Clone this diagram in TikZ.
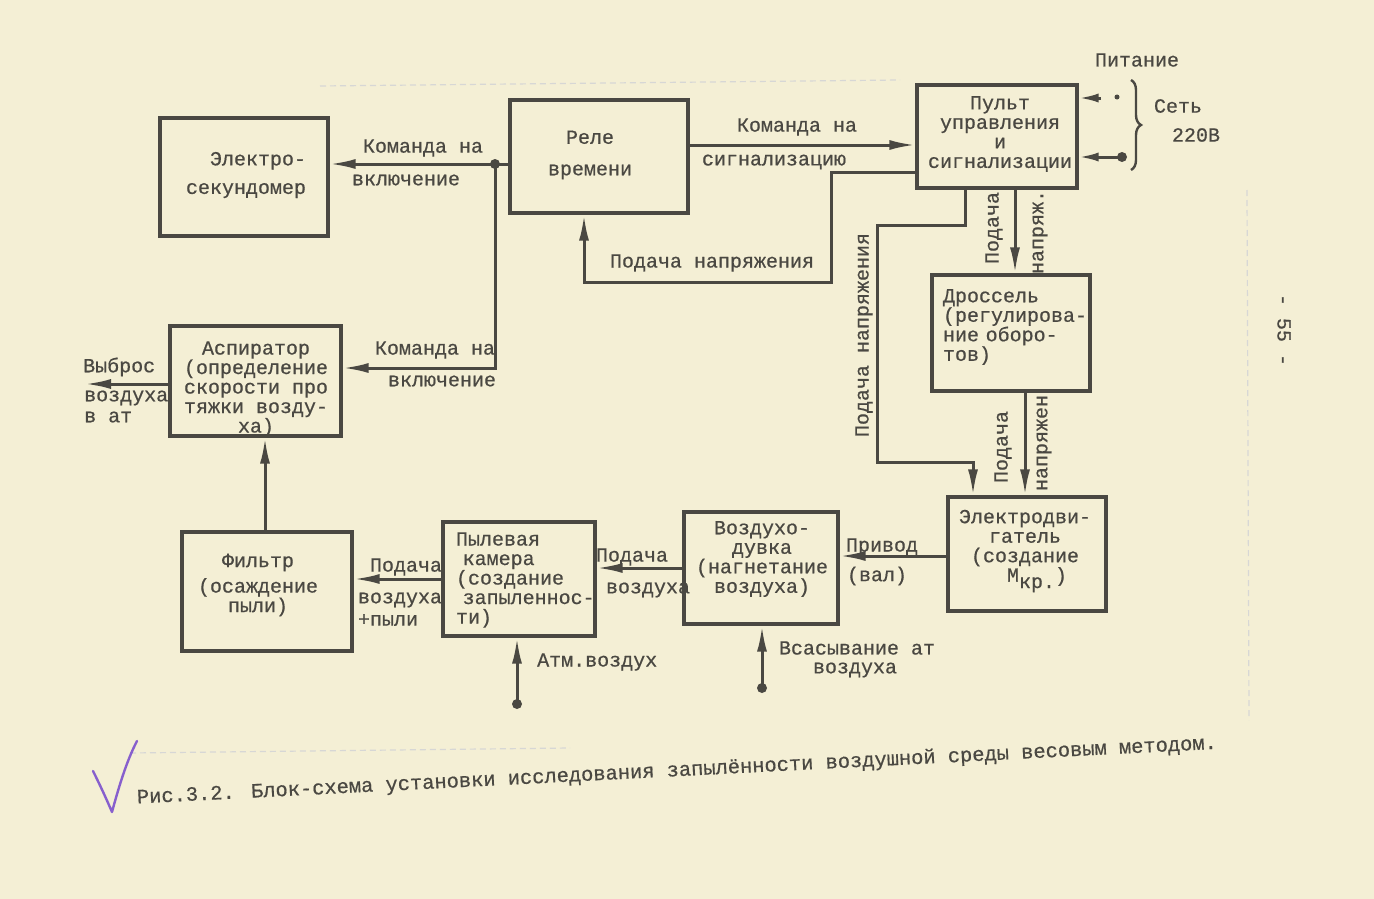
\documentclass[tikz,border=0pt]{standalone}
\usepackage{fontspec}
\newfontfamily\tw[FakeBold=0.6]{Liberation Mono}
\usetikzlibrary{arrows.meta,decorations.pathreplacing}
\definecolor{paper}{RGB}{244,239,213}
\definecolor{ink}{RGB}{74,72,66}
\definecolor{violetpen}{RGB}{135,95,205}
\begin{document}
\begin{tikzpicture}[x=1pt,y=-1pt,
  box/.style={draw=ink,line width=3.2pt,inner sep=0pt},
  txt/.style={font=\tw\fontsize{20}{19.5}\selectfont,text=ink,inner sep=0pt},
  conn/.style={draw=ink,line width=3pt},
  arr/.style={conn,-{Latex[length=26pt,width=10pt]}},
  sarr/.style={conn,-{Latex[length=20pt,width=9pt]}},
  faint/.style={draw=ink!22,line width=1.2pt,dash pattern=on 6pt off 4pt}]
\fill[paper] (0,0) rectangle (1374,899);
\useasboundingbox (0,0) rectangle (1374,899);
% faint page marks
\draw[faint] (320,86) -- (900,80);
\draw[faint] (130,753) -- (570,748);
\draw[faint] (1247,190) -- (1249,720);
% boxes
\node[box,minimum width=168pt,minimum height=118pt] (es) at (244,177) {};
\node[box,minimum width=178pt,minimum height=113pt] (rele) at (599,156.5) {};
\node[box,minimum width=160pt,minimum height=103pt] (pult) at (997,136.5) {};
\node[box,minimum width=171pt,minimum height=110pt] (asp) at (255.5,381) {};
\node[box,minimum width=158pt,minimum height=116pt] (dros) at (1011,333) {};
\node[box,minimum width=170pt,minimum height=119pt] (filt) at (267,591.5) {};
\node[box,minimum width=152pt,minimum height=114pt] (pyl) at (519,579) {};
\node[box,minimum width=154pt,minimum height=112pt] (vozd) at (761,568) {};
\node[box,minimum width=158pt,minimum height=114pt] (ed) at (1027,554) {};
% box texts
\node[txt,align=right] (esT) at (246,175) {Электро-\\[9pt]секундомер};
\node[txt,align=center] (releT) at (590,155) {Реле\\[12pt]времени};
\node[txt,align=center] (pultT) at (1000,134) {Пульт\\управления\\и\\сигнализации};
\node[txt,align=center] (aspT) at (256,389) {Аспиратор\\(определение\\скорости про\\тяжки возду-\\ха)};
\node[txt,align=left,text width=150pt] (drosT) at (1018,327) {Дроссель\\(регулирова-\\ние оборо-\\тов)};
\node[txt,align=center] (filtT) at (258,585) {Фильтр\\[6pt](осаждение\\пыли)};
\node[txt,align=left,text width=140pt] (pylT) at (526,580) {Пылевая\\\ камера\\(создание\\\ запыленнос-\\ти)};
\node[txt,align=center] (vozdT) at (762,559) {Воздухо-\\дувка\\(нагнетание\\воздуха)};
\node[txt,align=center] (edT) at (1025,551) {Электродви-\\гатель\\(создание\\\ \ М\raisebox{-0.6ex}{кр.})};
% rele -> electro-secundomer, with junction
\coordinate (j1) at (495,164);
\draw[arr] (j1 -| rele.west) -- (j1 -| es.east);
\fill[ink] (j1) circle (5pt);
\coordinate (j2) at (498,368);
\draw[arr] (j1) -- (j1 |- j2) -- (j2 -| asp.east);
\node[txt] (l1a) at (423,148) {Команда на};
\node[txt] (l1b) at (406,180) {включение};
\node[txt] (l2a) at (435,350) {Команда на};
\node[txt] (l2b) at (442,381) {включение};
% rele -> pult
\coordinate (c3) at (800,145);
\draw[arr] (c3 -| rele.east) -- (c3 -| pult.west);
\node[txt] (l3a) at (797,127) {Команда на};
\node[txt] (l3b) at (774,162) {сигнализацию};
% pult -> rele (feedback)
\coordinate (d1) at (831,172);
\coordinate (d2) at (831,282);
\coordinate (d3) at (584,282);
\draw[arr] (d1 -| pult.west) -- (d1) -- (d2) -- (d3) -- (d3 |- rele.south);
\node[txt] (l4) at (712,263) {Подача напряжения};
% pult -> electric motor (long path)
\coordinate (e1) at (965,225);
\coordinate (e2) at (877,225);
\coordinate (e3) at (877,462);
\coordinate (e4) at (973,462);
\draw[arr] (e1 |- pult.south) -- (e1) -- (e2) -- (e3) -- (e4) -- (e4 |- ed.north);
\node[txt,rotate=90] (l5) at (864,335) {Подача напряжения};
% pult -> drossel
\coordinate (f1) at (1015,230);
\draw[arr] (f1 |- pult.south) -- (f1 |- dros.north);
\node[txt,rotate=90] (l6a) at (994,228) {Подача};
\node[txt,rotate=90] (l6b) at (1040,232) {напряж.};
% drossel -> electric motor
\coordinate (g1) at (1025,440);
\draw[arr] (g1 |- dros.south) -- (g1 |- ed.north);
\node[txt,rotate=90] (l7a) at (1003,447) {Подача};
\node[txt,rotate=90] (l7b) at (1044,443) {напряжен};
% electric motor -> blower
\coordinate (h1) at (890,556);
\draw[arr] (h1 -| ed.west) -- (h1 -| vozd.east);
\node[txt] (l8a) at (882,547) {Привод};
\node[txt] (l8b) at (877,576) {(вал)};
% blower -> dust chamber
\coordinate (i1) at (640,568);
\draw[arr] (i1 -| vozd.west) -- (i1 -| pyl.east);
\node[txt] (l9a) at (632,557) {Подача};
\node[txt] (l9b) at (648,590) {воздуха};
% dust chamber -> filter
\coordinate (k1) at (400,579);
\draw[arr] (k1 -| pyl.west) -- (k1 -| filt.east);
\node[txt] (l10a) at (406,567) {Подача};
\node[txt] (l10b) at (400,600) {воздуха};
\node[txt] (l10c) at (388,620) {+пыли};
% filter -> aspirator
\coordinate (m1) at (265,480);
\draw[arr] (m1 |- filt.north) -- (m1 |- asp.south);
% aspirator -> exhaust
\coordinate (n1) at (85,384);
\draw[arr] (n1 -| asp.west) -- (n1);
\node[txt,anchor=west] (l11a) at (83,367) {Выброс};
\node[txt,anchor=west] (l11b) at (84,398) {воздуха};
\node[txt,anchor=west] (l11c) at (84,417) {в ат};
% atmospheric air -> dust chamber
\coordinate (atm) at (517,704);
\fill[ink] (atm) circle (5pt);
\draw[arr] (atm) -- (atm |- pyl.south);
\node[txt,anchor=west] (l12) at (537,662) {Атм.воздух};
% suction -> blower
\coordinate (vs) at (762,688);
\fill[ink] (vs) circle (5pt);
\draw[arr] (vs) -- (vs |- vozd.south);
\node[txt] (l13a) at (857,648) {Всасывание ат};
\node[txt] (l13b) at (855,670) {воздуха};
% power supply
\coordinate (pw1) at (1117,97);
\coordinate (pw1s) at (1101,98);
\fill[ink] (pw1) circle (2.5pt);
\draw[sarr] (pw1s) -- (pw1s -| pult.east);
\coordinate (pw2) at (1122,157);
\fill[ink] (pw2) circle (5pt);
\draw[sarr] (pw2) -- (pw2 -| pult.east);
\draw[ink,line width=2.4pt,decorate,decoration={brace,amplitude=10pt}] (1131,80) -- (1131,170);
\node[txt] (pit) at (1137,60) {Питание};
\node[txt] (set) at (1178,106) {Сеть};
\node[txt] (v220) at (1196,135) {220В};
% page number
\node[txt,rotate=-90] (pg) at (1284,330) {-  55  -};
% caption
\node[txt,rotate=2.9,font=\tw\fontsize{20.4}{24}\selectfont] (cap) at (677,771) {Рис.3.2. Блок-схема установки исследования запылённости воздушной среды весовым методом.};
\draw[violetpen,line width=2.4pt,line cap=round,line join=round] (93,771) .. controls (100,785) and (106,798) .. (112,812) .. controls (118,790) and (126,762) .. (137,741);
\end{tikzpicture}
\end{document}
